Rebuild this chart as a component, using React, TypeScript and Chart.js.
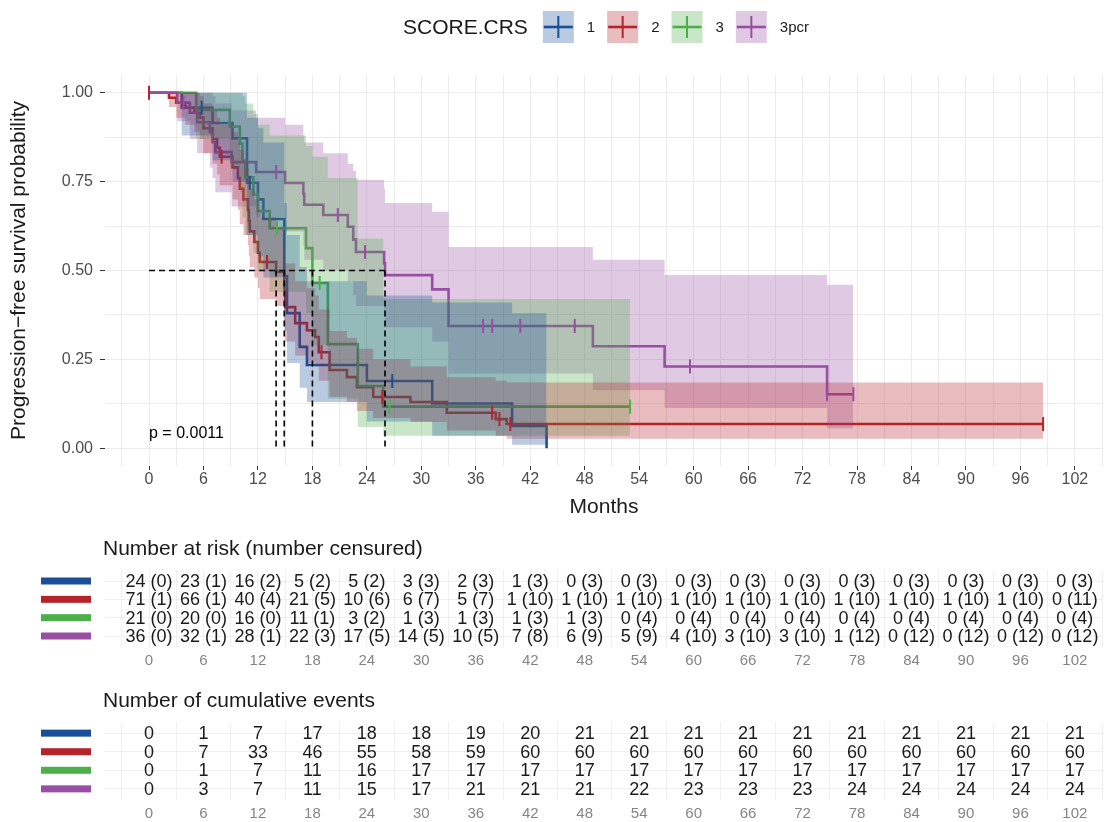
import React, { useEffect, useRef } from "react";
import { Chart, registerables } from "chart.js";

Chart.register(...registerables);

const FONT = "'Liberation Sans', Arial, Helvetica, sans-serif";

const LEGEND_TITLE = "SCORE.CRS";
const GROUP_NAMES = ["1", "2", "3", "3pcr"];
const COLORS = ["#1A4E99", "#B5232B", "#4DAF4A", "#984EA3"];

// ---- Group 1 (blue)
const blueTimes = [0, 3.6, 7.0, 9.2, 10.8, 12.0, 12.6, 14.9, 15.2, 16.6, 17.4, 24.0, 31.2, 40.0, 43.8];
const blueSurv = [1, 0.958, 0.915, 0.872, 0.747, 0.70, 0.645, 0.484, 0.38, 0.285, 0.234, 0.189, 0.126, 0.063, 0];
const blueUpper = [1, 1, 1, 1, 0.93, 0.9, 0.86, 0.69, 0.6, 0.51, 0.47, 0.43, 0.41, 0.38, 0.38];
const blueLower = [1, 0.88, 0.81, 0.75, 0.6, 0.54, 0.48, 0.33, 0.24, 0.17, 0.13, 0.075, 0.035, 0.01, 0.01];
const blueCensor = [5.8, 11.1, 26.8];

// ---- Group 2 (red)
const redTimes = [0, 2.2, 3.0, 4.0, 5.0, 5.6, 6.0, 7.0, 7.5, 7.8, 9.2, 9.8, 10.0, 10.4, 10.9, 11.0, 11.1, 11.6, 12.0, 12.2, 14.0, 14.9, 15.0, 16.1, 17.4, 18.3, 18.7, 19.9, 21.8, 22.9, 24.7, 28.8, 32.8, 38.2, 39.4, 98.5];
const redSurv = [1, 0.986, 0.972, 0.958, 0.944, 0.93, 0.90, 0.87, 0.845, 0.82, 0.79, 0.76, 0.73, 0.70, 0.67, 0.64, 0.61, 0.58, 0.55, 0.524, 0.496, 0.45, 0.397, 0.352, 0.332, 0.313, 0.27, 0.22, 0.20, 0.172, 0.144, 0.13, 0.10, 0.082, 0.068, 0.068];
const redUpper = [1, 1, 1, 1, 1, 0.99, 0.97, 0.95, 0.93, 0.91, 0.89, 0.86, 0.84, 0.81, 0.79, 0.76, 0.73, 0.70, 0.67, 0.65, 0.62, 0.57, 0.52, 0.47, 0.45, 0.43, 0.39, 0.33, 0.31, 0.28, 0.25, 0.23, 0.20, 0.19, 0.185, 0.185];
const redLower = [1, 0.96, 0.93, 0.91, 0.89, 0.87, 0.83, 0.80, 0.77, 0.74, 0.70, 0.67, 0.63, 0.60, 0.57, 0.54, 0.51, 0.48, 0.45, 0.42, 0.40, 0.35, 0.30, 0.26, 0.24, 0.23, 0.19, 0.145, 0.13, 0.105, 0.085, 0.074, 0.05, 0.035, 0.027, 0.027];
const redCensor = [0, 8.0, 13.0, 19.0, 25.7, 37.8, 38.6, 39.8, 98.5];

// ---- Group 3 (green)
const greenTimes = [0, 5.2, 8.9, 10.0, 10.3, 10.6, 11.5, 12.0, 13.3, 17.3, 18.0, 19.7, 23.0, 25.8, 53.0];
const greenSurv = [1, 0.952, 0.905, 0.857, 0.81, 0.762, 0.714, 0.667, 0.619, 0.563, 0.465, 0.293, 0.175, 0.117, 0.117];
const greenUpper = [1, 1, 1, 1, 0.99, 0.97, 0.94, 0.91, 0.88, 0.85, 0.82, 0.76, 0.59, 0.42, 0.42];
const greenLower = [1, 0.87, 0.79, 0.72, 0.65, 0.6, 0.55, 0.5, 0.44, 0.38, 0.29, 0.14, 0.06, 0.035, 0.035];
const greenCensor = [14.1, 18.8, 26.5, 53.0];

// ---- Group 3pcr (purple)
const purpleTimes = [0, 3.1, 4.5, 5.3, 6.7, 7.0, 7.3, 9.1, 11.8, 15.0, 17.0, 17.1, 19.2, 21.9, 22.5, 22.8, 25.9, 26.0, 31.2, 33.0, 48.9, 56.8, 74.7, 77.6];
const purpleSurv = [1, 0.972, 0.944, 0.917, 0.889, 0.861, 0.833, 0.805, 0.777, 0.746, 0.716, 0.685, 0.656, 0.623, 0.587, 0.552, 0.52, 0.487, 0.447, 0.344, 0.287, 0.23, 0.152, 0.152];
const purpleUpper = [1, 1, 1, 1, 1, 0.99, 0.97, 0.95, 0.93, 0.91, 0.88, 0.86, 0.83, 0.80, 0.78, 0.755, 0.73, 0.69, 0.665, 0.566, 0.53, 0.487, 0.46, 0.46];
const purpleLower = [1, 0.92, 0.87, 0.83, 0.79, 0.76, 0.72, 0.68, 0.65, 0.61, 0.57, 0.53, 0.50, 0.47, 0.43, 0.40, 0.37, 0.34, 0.30, 0.21, 0.163, 0.113, 0.056, 0.056];
const purpleCensor = [3.8, 14.0, 20.8, 23.8, 36.8, 37.8, 40.9, 46.9, 59.6, 74.7, 77.6];

// medians (blue, red, green, purple)
const MEDIANS = [14.9, 14.0, 18.0, 26.0];
const P_VALUE_TEXT = "p = 0.0011";

// axis ticks
const MONTHS = [0, 6, 12, 18, 24, 30, 36, 42, 48, 54, 60, 66, 72, 78, 84, 90, 96, 102];
const Y_TICKS = [0, 0.25, 0.5, 0.75, 1];

// risk table
const riskN1 = [24, 23, 16, 5, 5, 3, 2, 1, 0, 0, 0, 0, 0, 0, 0, 0, 0, 0];
const riskC1 = [0, 1, 2, 2, 2, 3, 3, 3, 3, 3, 3, 3, 3, 3, 3, 3, 3, 3];
const riskN2 = [71, 66, 40, 21, 10, 6, 5, 1, 1, 1, 1, 1, 1, 1, 1, 1, 1, 0];
const riskC2 = [1, 1, 4, 5, 6, 7, 7, 10, 10, 10, 10, 10, 10, 10, 10, 10, 10, 11];
const riskN3 = [21, 20, 16, 11, 3, 1, 1, 1, 1, 0, 0, 0, 0, 0, 0, 0, 0, 0];
const riskC3 = [0, 0, 0, 1, 2, 3, 3, 3, 3, 4, 4, 4, 4, 4, 4, 4, 4, 4];
const riskN4 = [36, 32, 28, 22, 17, 14, 10, 7, 6, 5, 4, 3, 3, 1, 0, 0, 0, 0];
const riskC4 = [0, 1, 1, 3, 5, 5, 5, 8, 9, 9, 10, 10, 10, 12, 12, 12, 12, 12];

// cumulative events
const events1 = [0, 1, 7, 17, 18, 18, 19, 20, 21, 21, 21, 21, 21, 21, 21, 21, 21, 21];
const events2 = [0, 7, 33, 46, 55, 58, 59, 60, 60, 60, 60, 60, 60, 60, 60, 60, 60, 60];
const events3 = [0, 1, 7, 11, 16, 17, 17, 17, 17, 17, 17, 17, 17, 17, 17, 17, 17, 17];
const events4 = [0, 3, 7, 11, 15, 17, 21, 21, 21, 22, 23, 23, 23, 24, 24, 24, 24, 24];

const RISK_TITLE = "Number at risk (number censured)";
const EVENTS_TITLE = "Number of cumulative events";
const X_TITLE = "Months";
const Y_TITLE = "Progression\u2212free survival probability";

// ---------- layout constants
const W = 1105;
const X_MIN = -4.85;
const X_MAX = 105.1;
const AXIS_LEFT_W = 105;

function rgba(hex: string, a: number) {
  const n = parseInt(hex.slice(1), 16);
  return `rgba(${(n >> 16) & 255},${(n >> 8) & 255},${n & 255},${a})`;
}

function stepAt(times: number[], surv: number[], t: number) {
  let v = surv[0];
  for (let i = 0; i < times.length; i++) if (times[i] <= t) v = surv[i];
  return v;
}

const xGridValues = (() => {
  const v: number[] = [];
  MONTHS.forEach((m) => v.push(m - 3, m));
  v.push(MONTHS[MONTHS.length - 1] + 3);
  return v;
})();
const yGridValues = (() => {
  const v: number[] = [];
  Y_TICKS.forEach((t, i) => {
    v.push(t);
    if (i < Y_TICKS.length - 1) v.push((t + Y_TICKS[i + 1]) / 2);
  });
  return v;
})();

const groups = [
  { times: blueTimes, surv: blueSurv, upper: blueUpper, lower: blueLower, cens: blueCensor },
  { times: redTimes, surv: redSurv, upper: redUpper, lower: redLower, cens: redCensor },
  { times: greenTimes, surv: greenSurv, upper: greenUpper, lower: greenLower, cens: greenCensor },
  { times: purpleTimes, surv: purpleSurv, upper: purpleUpper, lower: purpleLower, cens: purpleCensor },
];

function buildDatasets() {
  const ds: any[] = [];
  groups.forEach((g, gi) => {
    ds.push({
      data: g.times.map((t, i) => ({ x: t, y: g.surv[i] })),
      borderColor: COLORS[gi],
      borderWidth: 2.6,
      stepped: true,
      pointRadius: 0,
      fill: false,
      order: 23 - gi,
    });
  });
  groups.forEach((g, gi) => {
    ds.push({
      data: g.times.map((t, i) => ({ x: t, y: g.lower[i] })),
      borderColor: "rgba(0,0,0,0)",
      borderWidth: 0,
      stepped: true,
      pointRadius: 0,
      fill: false,
      order: 10 + gi,
    });
    ds.push({
      data: g.times.map((t, i) => ({ x: t, y: g.upper[i] })),
      borderColor: "rgba(0,0,0,0)",
      borderWidth: 0,
      stepped: true,
      pointRadius: 0,
      fill: "-1",
      backgroundColor: rgba(COLORS[gi], 0.3),
      order: 10 + gi,
    });
  });
  groups.forEach((g, gi) => {
    ds.push({
      data: g.cens.map((t) => ({ x: t, y: stepAt(g.times, g.surv, t) })),
      showLine: false,
      borderColor: COLORS[gi],
      backgroundColor: COLORS[gi],
      pointStyle: "line",
      pointRotation: 90,
      pointRadius: 7,
      pointBorderWidth: 2,
      pointBorderColor: COLORS[gi],
      order: 4 - gi,
    });
  });
  const dashed = { borderColor: "#000000", borderWidth: 1.6, borderDash: [6, 4], pointRadius: 0, fill: false, order: -1 };
  ds.push({ ...dashed, data: [{ x: 0, y: 0.5 }, { x: Math.max(...MEDIANS), y: 0.5 }] });
  MEDIANS.forEach((m) => ds.push({ ...dashed, data: [{ x: m, y: 0.5 }, { x: m, y: 0 }] }));
  return ds;
}

const legendPlugin = {
  id: "kmLegend",
  afterDraw(chart: any) {
    const ctx = chart.ctx as CanvasRenderingContext2D;
    const ca = chart.chartArea;
    ctx.save();
    ctx.textBaseline = "middle";
    ctx.textAlign = "left";
    ctx.font = `21px ${FONT}`;
    const titleW = ctx.measureText(LEGEND_TITLE).width;
    ctx.font = `15px ${FONT}`;
    const labelWs = GROUP_NAMES.map((n) => ctx.measureText(n).width);
    const boxW = 31, boxH = 32, gapTitle = 15, gapBox = 13, gapItem = 12;
    const total = titleW + gapTitle + labelWs.reduce((s, w) => s + boxW + gapBox + w, 0) + gapItem * (GROUP_NAMES.length - 1);
    let x = (ca.left + ca.right) / 2 + 2 - total / 2;
    const cy = 27;
    ctx.fillStyle = "#1a1a1a";
    ctx.font = `21px ${FONT}`;
    ctx.fillText(LEGEND_TITLE, x, cy + 1);
    x += titleW + gapTitle;
    GROUP_NAMES.forEach((name, i) => {
      ctx.fillStyle = rgba(COLORS[i], 0.3);
      ctx.fillRect(x, cy - boxH / 2, boxW, boxH);
      ctx.strokeStyle = COLORS[i];
      ctx.lineWidth = 2.6;
      ctx.beginPath();
      ctx.moveTo(x + 1, cy);
      ctx.lineTo(x + boxW - 1, cy);
      ctx.stroke();
      ctx.lineWidth = 2;
      ctx.beginPath();
      ctx.moveTo(x + boxW / 2, cy - 11);
      ctx.lineTo(x + boxW / 2, cy + 11);
      ctx.stroke();
      x += boxW + gapBox;
      ctx.fillStyle = "#1a1a1a";
      ctx.font = `15px ${FONT}`;
      ctx.fillText(name, x, cy + 1);
      x += labelWs[i] + gapItem;
    });
    ctx.restore();
  },
};

const pvalPlugin = {
  id: "pval",
  afterDatasetsDraw(chart: any) {
    const ctx = chart.ctx as CanvasRenderingContext2D;
    const xs = chart.scales.x, ys = chart.scales.y;
    ctx.save();
    ctx.font = `16px ${FONT}`;
    ctx.fillStyle = "#000";
    ctx.textAlign = "left";
    ctx.textBaseline = "middle";
    ctx.fillText(P_VALUE_TEXT, xs.getPixelForValue(0), ys.getPixelForValue(0.041));
    ctx.restore();
  },
};

const isMajorX = (v: number) => MONTHS.includes(v);
const isMajorY = (v: number) => Y_TICKS.some((t) => Math.abs(t - v) < 1e-9);

function MainChart() {
  const ref = useRef<HTMLCanvasElement>(null);
  useEffect(() => {
    const H = 530;
    const chart = new Chart(ref.current as HTMLCanvasElement, {
      type: "line",
      data: { datasets: buildDatasets() },
      options: {
        responsive: false,
        animation: false,
        devicePixelRatio: 1,
        layout: { autoPadding: false, padding: { top: 75, right: 2, left: 0, bottom: 0 } },
        plugins: { legend: { display: false }, tooltip: { enabled: false }, filler: { drawTime: "beforeDatasetDraw" } as any },
        scales: {
          x: {
            type: "linear",
            min: X_MIN,
            max: X_MAX,
            afterBuildTicks: (s: any) => { s.ticks = xGridValues.map((v) => ({ value: v })); },
            afterFit: (s: any) => { s.height = H - 466; s.paddingLeft = 0; s.paddingRight = 0; },
            ticks: {
              autoSkip: false,
              maxRotation: 0,
              padding: 0,
              color: "#4d4d4d",
              font: { size: 16, family: FONT },
              callback: (v: any) => (isMajorX(Number(v)) ? String(v) : ""),
            },
            grid: {
              color: "#ebebeb",
              lineWidth: 1,
              tickLength: 4,
              tickColor: (c: any) => (c.tick && isMajorX(c.tick.value) ? "#333333" : "rgba(0,0,0,0)"),
            },
            border: { display: false },
            title: { display: true, text: X_TITLE, color: "#1a1a1a", font: { size: 21, family: FONT }, padding: { top: 0, bottom: 10 } },
          },
          y: {
            type: "linear",
            min: -0.05,
            max: 1.05,
            afterBuildTicks: (s: any) => { s.ticks = yGridValues.map((v) => ({ value: v })); },
            afterFit: (s: any) => { s.width = AXIS_LEFT_W; s.paddingTop = 0; s.paddingBottom = 0; },
            ticks: {
              autoSkip: false,
              padding: 7,
              color: "#4d4d4d",
              font: { size: 16, family: FONT },
              callback: (v: any) => (isMajorY(Number(v)) ? Number(v).toFixed(2) : ""),
            },
            grid: {
              color: "#ebebeb",
              lineWidth: 1,
              tickLength: 5,
              tickColor: (c: any) => (c.tick && isMajorY(c.tick.value) ? "#333333" : "rgba(0,0,0,0)"),
            },
            border: { display: false },
            title: { display: true, text: Y_TITLE, color: "#1a1a1a", font: { size: 21, family: FONT }, padding: { top: 7, bottom: 0 } },
          },
        },
      },
      plugins: [legendPlugin, pvalPlugin],
    } as any);
    return () => chart.destroy();
  }, []);
  return <canvas ref={ref} width={W} height={530} style={{ position: "absolute", left: 0, top: 0, width: W, height: 530 }} />;
}

function TableChart(props: { top: number; height: number; padTop: number; axisH: number; titleY: number; title: string; rows: string[][]; fontSize: number }) {
  const ref = useRef<HTMLCanvasElement>(null);
  useEffect(() => {
    const { padTop, axisH, titleY, title, rows, fontSize } = props;
    const tablePlugin = {
      id: "tableText",
      afterDraw(chart: any) {
        const ctx = chart.ctx as CanvasRenderingContext2D;
        const xs = chart.scales.x, ys = chart.scales.y;
        const ca = chart.chartArea;
        ctx.save();
        ctx.textBaseline = "middle";
        ctx.textAlign = "left";
        ctx.fillStyle = "#1a1a1a";
        ctx.font = `21px ${FONT}`;
        ctx.fillText(title, ca.left - 2, titleY);
        rows.forEach((row, r) => {
          const y = ys.getPixelForValue(r + 1);
          ctx.fillStyle = COLORS[r];
          ctx.fillRect(ca.left - 64, y - 3.5, 50, 7);
          ctx.fillStyle = "#1a1a1a";
          ctx.font = `${fontSize}px ${FONT}`;
          ctx.textAlign = "center";
          row.forEach((txt, i) => {
            ctx.fillText(txt, xs.getPixelForValue(MONTHS[i]), y + 1);
          });
          ctx.textAlign = "left";
        });
        ctx.restore();
      },
    };
    const chart = new Chart(ref.current as HTMLCanvasElement, {
      type: "scatter",
      data: { datasets: [] },
      options: {
        responsive: false,
        animation: false,
        devicePixelRatio: 1,
        layout: { autoPadding: false, padding: { top: padTop, right: 2, left: 0, bottom: 0 } },
        plugins: { legend: { display: false }, tooltip: { enabled: false } },
        scales: {
          x: {
            type: "linear",
            min: X_MIN,
            max: X_MAX,
            afterBuildTicks: (s: any) => { s.ticks = xGridValues.map((v) => ({ value: v })); },
            afterFit: (s: any) => { s.height = axisH; s.paddingLeft = 0; s.paddingRight = 0; },
            ticks: {
              autoSkip: false,
              maxRotation: 0,
              padding: 5,
              color: "#858585",
              font: { size: 15, family: FONT },
              callback: (v: any) => (isMajorX(Number(v)) ? String(v) : ""),
            },
            grid: { color: "#efefef", drawTicks: false },
            border: { display: false },
          },
          y: {
            type: "linear",
            min: 0.4,
            max: 4.6,
            reverse: true,
            afterBuildTicks: (s: any) => { s.ticks = [1, 2, 3, 4].map((v) => ({ value: v })); },
            afterFit: (s: any) => { s.width = AXIS_LEFT_W; s.paddingTop = 0; s.paddingBottom = 0; },
            ticks: { display: false },
            grid: { color: "#efefef", drawTicks: false },
            border: { display: false },
          },
        },
      },
      plugins: [tablePlugin],
    } as any);
    return () => chart.destroy();
  }, []);
  return <canvas ref={ref} width={W} height={props.height} style={{ position: "absolute", left: 0, top: props.top, width: W, height: props.height }} />;
}

const riskRows = [
  riskN1.map((n, i) => `${n} (${riskC1[i]})`),
  riskN2.map((n, i) => `${n} (${riskC2[i]})`),
  riskN3.map((n, i) => `${n} (${riskC3[i]})`),
  riskN4.map((n, i) => `${n} (${riskC4[i]})`),
];
const eventRows = [events1, events2, events3, events4].map((r) => r.map((v) => String(v)));

export default function App() {
  return (
    <div style={{ position: "absolute", left: 0, top: 0, width: W, height: 822, background: "#ffffff", overflow: "hidden", fontFamily: FONT }}>
      <MainChart />
      <TableChart top={530} height={140} padTop={40} axisH={23} titleY={19} title={RISK_TITLE} rows={riskRows} fontSize={18} />
      <TableChart top={680} height={142} padTop={42} axisH={22} titleY={21} title={EVENTS_TITLE} rows={eventRows} fontSize={18} />
    </div>
  );
}
